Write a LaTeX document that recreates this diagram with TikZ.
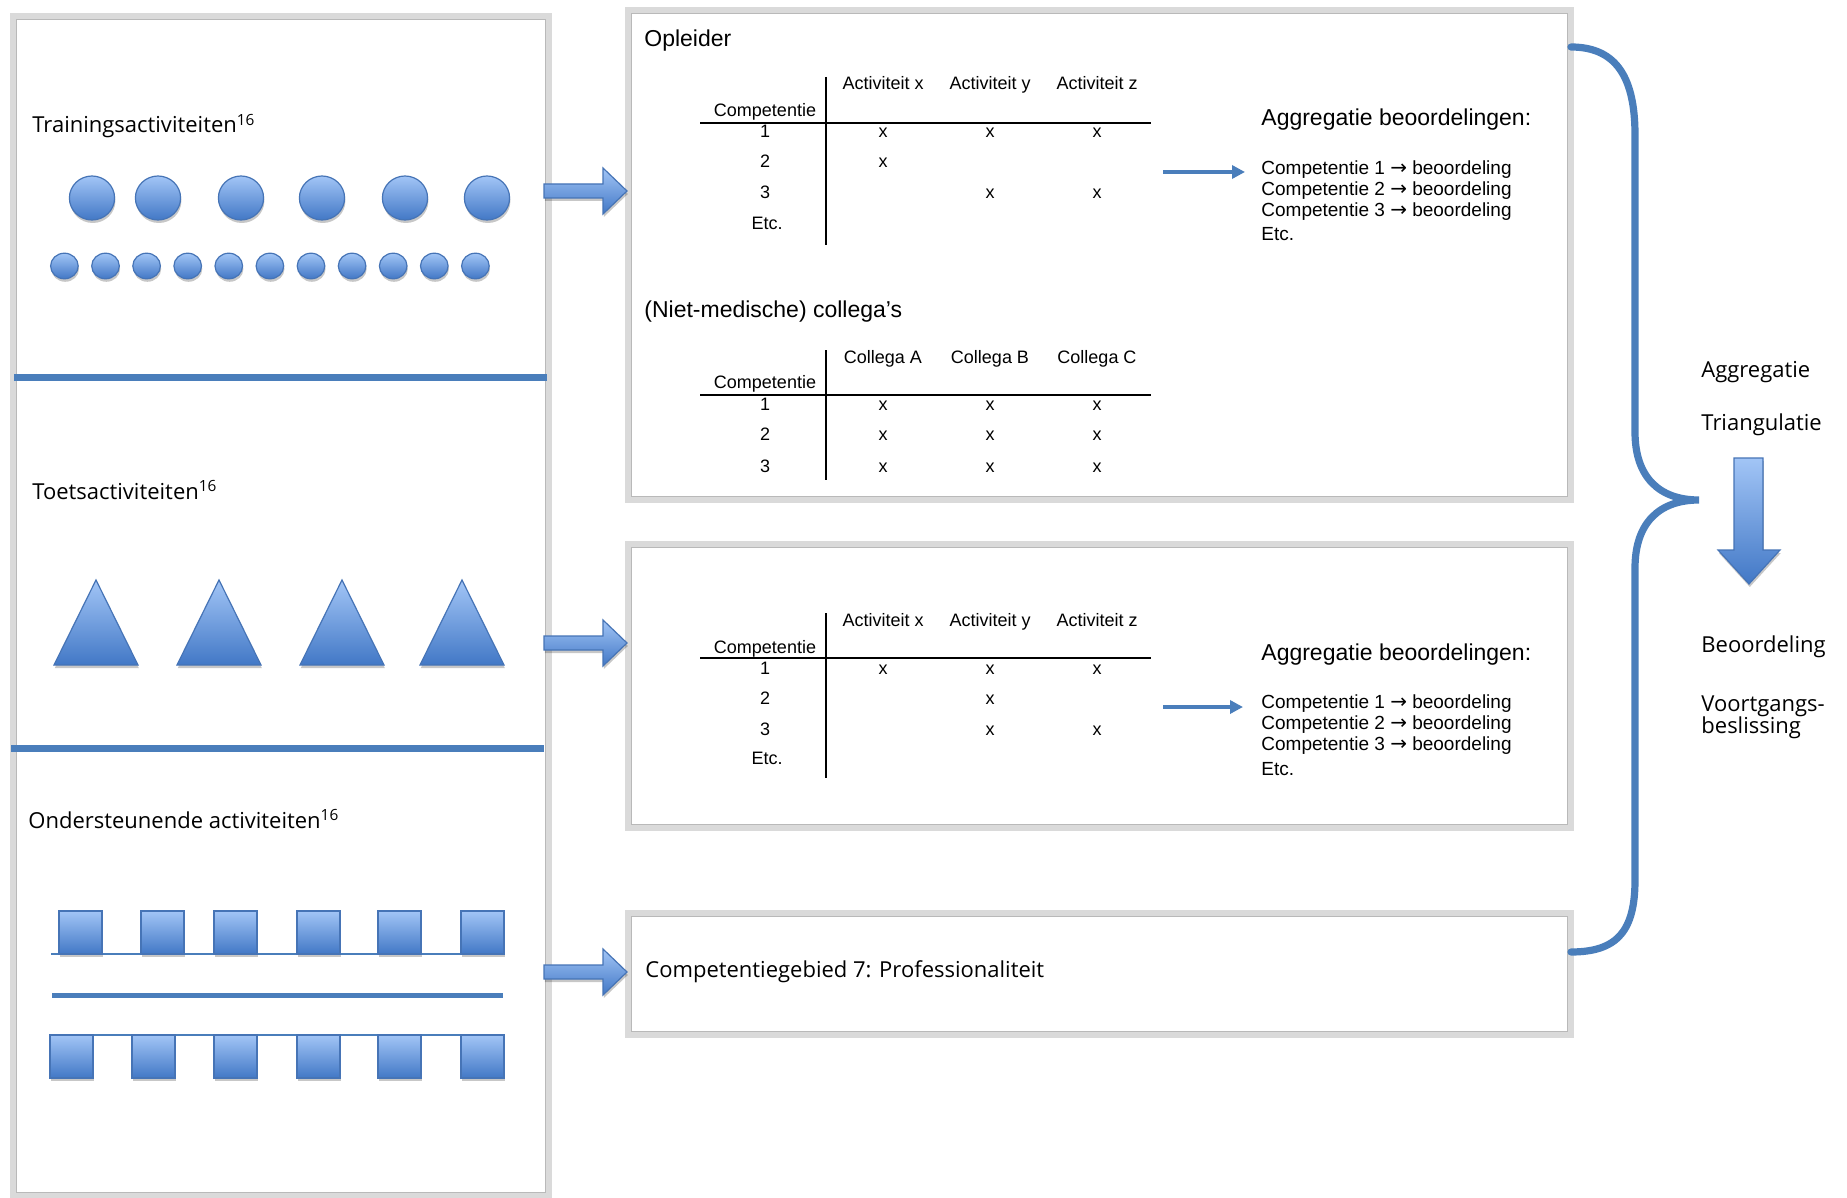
\documentclass[tikz,border=0pt]{standalone}
\usepackage{fontspec}
\setmainfont{Liberation Sans}
\newfontfamily\segfont{Open Sans}
\newfontfamily\arrfont{DejaVu Sans}
\usetikzlibrary{shadows,arrows.meta}
\definecolor{ofblue}{RGB}{74,126,187}
\definecolor{shtop}{RGB}{162,197,246}
\definecolor{shbot}{RGB}{66,120,198}
\definecolor{shline}{RGB}{70,116,182}
\definecolor{frameout}{RGB}{218,218,218}
\definecolor{framein}{RGB}{185,185,185}
\newcommand{\ar}{{\arrfont\fontsize{10}{10}\selectfont →}}
\begin{document}
\begin{tikzpicture}[x=0.5pt,y=-0.5pt,
  frameo/.style={draw=frameout, line width=3pt, inner sep=0pt, outer sep=0pt, fill=white},
  framei/.style={draw=framein, line width=0.5pt},
  sepline/.style={draw=ofblue, line width=3.5pt},
  blueshape/.style={top color=shtop, bottom color=shbot, draw=shline, line width=0.6pt,
     drop shadow={shadow xshift=0.4pt, shadow yshift=-1.5pt, opacity=0.22, fill=black}},
  thinblue/.style={draw=ofblue, line width=0.6pt},
  seglbl/.style={anchor=base west, inner sep=0pt, font=\segfont\fontsize{11}{11}\selectfont},
  biglbl/.style={anchor=base west, inner sep=0pt, font=\fontsize{11.5}{13}\selectfont},
  tab/.style={anchor=base, inner sep=0pt, font=\fontsize{9}{10}\selectfont},
  lst/.style={anchor=base west, inner sep=0pt, font=\fontsize{9.5}{11}\selectfont},
  tabline/.style={draw=black, line width=0.8pt},
  smallarrow/.style={draw=ofblue, line width=1.7pt, -{Triangle[length=6.5pt,width=6.5pt]}},
  brace/.style={draw=ofblue, line width=3.6pt, line cap=round}
]
\useasboundingbox (0,0) rectangle (1847,1198);
\fill[white] (0,0) rectangle (1847,1198);

% ---------- panels ----------
\node[frameo, minimum width=268pt, minimum height=590pt] (L) at (281,606) {};
\draw[framei] ([shift={(3.5,3.5)}]L.north west) rectangle ([shift={(-3.5,-3.5)}]L.south east);
\node[frameo, minimum width=471.5pt, minimum height=245pt] (P1) at (1099.5,255) {};
\draw[framei] ([shift={(3.5,3.5)}]P1.north west) rectangle ([shift={(-3.5,-3.5)}]P1.south east);
\node[frameo, minimum width=471.5pt, minimum height=142pt] (P2) at (1099.5,686) {};
\draw[framei] ([shift={(3.5,3.5)}]P2.north west) rectangle ([shift={(-3.5,-3.5)}]P2.south east);
\node[frameo, minimum width=471.5pt, minimum height=61pt] (P3) at (1099.5,974) {};
\draw[framei] ([shift={(3.5,3.5)}]P3.north west) rectangle ([shift={(-3.5,-3.5)}]P3.south east);

% separators in left panel
\draw[sepline] (14,377) -- (547,377);
\draw[sepline] (11,748) -- (544,748);

% ---------- left panel labels ----------
\node[seglbl] (trlbl) at (32,133) {Trainingsactiviteiten\textsuperscript{16}};
\node[seglbl] (tolbl) at (32,499) {Toetsactiviteiten\textsuperscript{16}};
\node[seglbl] (onlbl) at (28,828) {Ondersteunende activiteiten\textsuperscript{16}};

% circles
\foreach \cx in {92,158,241,322,405,487}
  \path[blueshape] (\cx,198) ellipse [x radius=11.3pt, y radius=11pt];
\foreach \i in {0,...,10}
  \path[blueshape] ({64.4+41.1*\i},266) ellipse [x radius=6.9pt, y radius=6.4pt];

% triangles
\foreach \cx in {96,219,342,462}
  \path[blueshape] (\cx-42,665) -- (\cx,580) -- (\cx+42,665) -- cycle;

% squares
\draw[thinblue] (51,954) -- (505,954);
\foreach \sx in {59,141,214,297,378,461}
  \path[blueshape] (\sx,911) rectangle (\sx+43,954);
\draw[draw=ofblue, line width=2.5pt] (52,995) -- (503,995);
\draw[thinblue] (51,1035) -- (505,1035);
\foreach \sx in {50,132,214,297,378,461}
  \path[blueshape] (\sx,1035) rectangle (\sx+43,1078);

% ---------- block arrows (connectors) ----------
\coordinate (Lr) at ([xshift=-2.5pt]L.east);
\foreach \ay in {191,643,972}
  \path[blueshape] (Lr |- 0,\ay) ++(0,-7) -- ++(59,0) -- ++(0,-16) -- ++(24,23) -- ++(-24,23) -- ++(0,-16) -- ++(-59,0) -- cycle;

% ---------- panel 1 ----------
\node[biglbl] (opl) at (644,47) {Opleider};
\draw[tabline] (826,77) -- (826,245);
\draw[tabline] (700,123) -- (1151,123);
\node[tab] (t1hx) at (883,90) {Activiteit x};
\node[tab] (t1hy) at (990,90) {Activiteit y};
\node[tab] (t1hz) at (1097,90) {Activiteit z};
\node[tab] (t1c) at (765,117) {Competentie};
\node[tab] (t1r1) at (765,138) {1};
\node[tab] (t1r2) at (765,168) {2};
\node[tab] (t1r3) at (765,199) {3};
\node[tab] (t1r4) at (767,230) {Etc.};
\node[tab] (t1a) at (883,138) {x};
\node[tab] (t1b) at (990,138) {x};
\node[tab] (t1d) at (1097,138) {x};
\node[tab] (t1e) at (883,168) {x};
\node[tab] (t1f) at (990,199) {x};
\node[tab] (t1g) at (1097,199) {x};

\coordinate (a1s) at (1163,172);
\node[biglbl] (agg1) at (1261,126) {Aggregatie beoordelingen:};
\node[lst] (c11) at (1261,175) {Competentie 1 \ar{} beoordeling};
\node[lst] (c12) at (1261,196) {Competentie 2 \ar{} beoordeling};
\node[lst] (c13) at (1261,217) {Competentie 3 \ar{} beoordeling};
\node[lst] (c14) at (1261,241) {Etc.};
\coordinate (a1e) at ([xshift=-8pt]c11.west |- a1s);
\draw[smallarrow] (a1s) -- (a1e);

\node[biglbl] (nmc) at (644,317) {(Niet-medische) collega’s};
\draw[tabline] (826,350) -- (826,480);
\draw[tabline] (700,395) -- (1151,395);
\node[tab] (t2ha) at (883,364) {Collega A};
\node[tab] (t2hb) at (990,364) {Collega B};
\node[tab] (t2hc) at (1097,364) {Collega C};
\node[tab] (t2c) at (765,388) {Competentie};
\node[tab] (t2r1) at (765,410) {1};
\node[tab] (t2r2) at (765,440) {2};
\node[tab] (t2r3) at (765,472) {3};
\foreach \ry/\nm in {410/a,440/b,472/c}{
  \node[tab] (t2\nm1) at (883,\ry) {x};
  \node[tab] (t2\nm2) at (990,\ry) {x};
  \node[tab] (t2\nm3) at (1097,\ry) {x};
}

% ---------- panel 2 ----------
\draw[tabline] (826,613) -- (826,778);
\draw[tabline] (700,658) -- (1151,658);
\node[tab] (t3hx) at (883,626) {Activiteit x};
\node[tab] (t3hy) at (990,626) {Activiteit y};
\node[tab] (t3hz) at (1097,626) {Activiteit z};
\node[tab] (t3c) at (765,653) {Competentie};
\node[tab] (t3r1) at (765,674) {1};
\node[tab] (t3r2) at (765,704) {2};
\node[tab] (t3r3) at (765,735) {3};
\node[tab] (t3r4) at (767,764) {Etc.};
\node[tab] (t3a) at (883,674) {x};
\node[tab] (t3b) at (990,674) {x};
\node[tab] (t3d) at (1097,674) {x};
\node[tab] (t3e) at (990,704) {x};
\node[tab] (t3f) at (990,735) {x};
\node[tab] (t3g) at (1097,735) {x};

\coordinate (a2s) at (1163,707);
\node[biglbl] (agg2) at (1261,660) {Aggregatie beoordelingen:};
\node[lst] (c21) at (1261,708) {Competentie 1 \ar{} beoordeling};
\node[lst] (c22) at (1261,729) {Competentie 2 \ar{} beoordeling};
\node[lst] (c23) at (1261,750) {Competentie 3 \ar{} beoordeling};
\node[lst] (c24) at (1261,775) {Etc.};
\coordinate (a2e) at ([xshift=-9pt]c21.west |- a2s);
\draw[smallarrow] (a2s) -- (a2e);

% ---------- panel 3 ----------
\node[seglbl] (prof) at (645,977) {Competentiegebied 7: Professionaliteit};

% ---------- brace ----------
\coordinate (btip) at (1699,500);
\draw[brace] (P1.east |- 0,47) .. controls (1618,47) and (1635,80) .. (1635,135)
   -- (1635,432) .. controls (1635,478) and (1660,500) .. (btip)
   .. controls (1660,500) and (1635,522) .. (1635,568)
   -- (1635,880) .. controls (1635,930) and (1618,952) .. (P3.east |- 0,952);

% ---------- right labels ----------
\node[seglbl] (aggr) at (1701,377) {Aggregatie};
\node[seglbl] (tria) at (1701,430) {Triangulatie};
\node[seglbl] (beoo) at (1701,652) {Beoordeling};
\node[seglbl] (voor) at (1701,711) {Voortgangs-};
\node[seglbl] (besl) at (1701,733) {beslissing};

% down arrow
\coordinate (dtop) at (1734,458);
\path[blueshape] (dtop) -- ++(29,0) -- ++(0,92) -- ++(17,0) -- ++(-31,34) -- ++(-31,-34) -- ++(16,0) -- cycle;
\end{tikzpicture}
\end{document}
